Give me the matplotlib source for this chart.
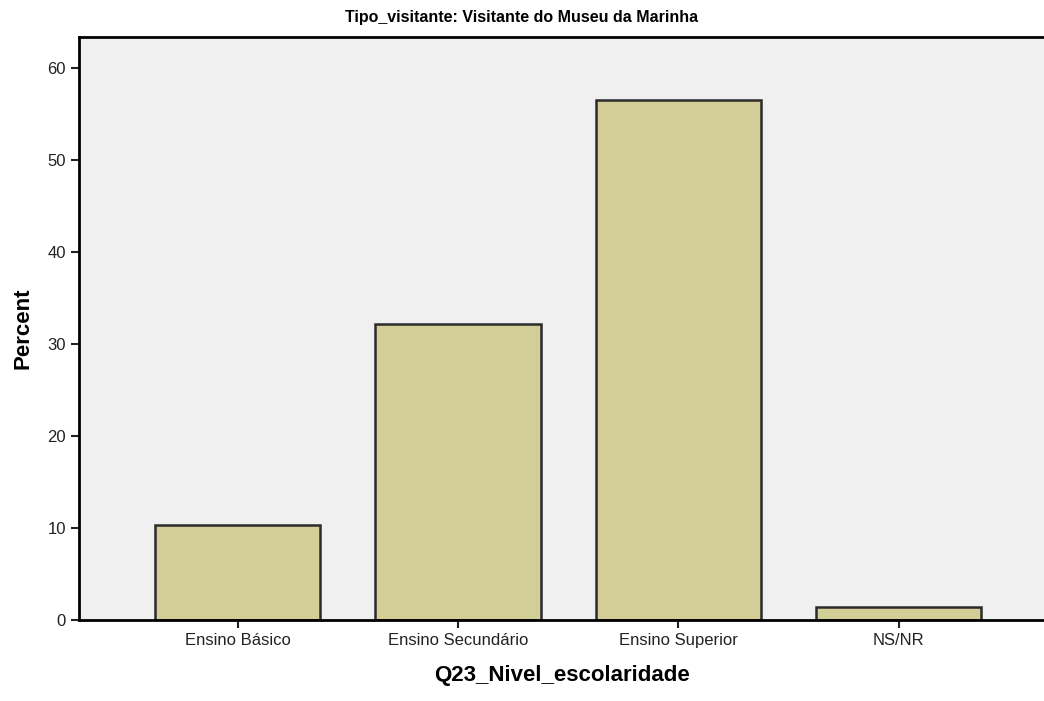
import matplotlib
matplotlib.use('Agg')
import matplotlib.pyplot as plt

plt.rcParams['font.family'] = ['Liberation Sans', 'DejaVu Sans']

categories = ['Ensino Básico', 'Ensino Secundário', 'Ensino Superior', 'NS/NR']
percent = [10.3, 32.2, 56.5, 1.4]

fig = plt.figure(figsize=(10.44, 7.01), dpi=100)
ax = fig.add_axes([0.0757, 0.1155, 0.9243, 0.8315])
ax.set_facecolor('#f0f0f0')

x = list(range(len(categories)))
ax.bar(x, percent, width=0.75, color='#d3ce98', edgecolor='#2a2a2a', linewidth=1.8, zorder=2)

ax.set_xlim(-0.72, 3.66)
ax.set_ylim(0, 63.3)
ax.set_yticks([0, 10, 20, 30, 40, 50, 60])
ax.set_xticks(x)
ax.set_xticklabels(categories, fontsize=12)
ax.tick_params(axis='y', labelsize=12, length=6, width=1.5, colors='#222222')
ax.tick_params(axis='x', length=6, width=1.5, colors='#222222')

for s in ['left', 'bottom', 'top']:
    ax.spines[s].set_linewidth(2)
    ax.spines[s].set_color('black')
ax.spines['right'].set_visible(False)

ax.set_ylabel('Percent', fontsize=16, fontweight='bold', labelpad=10)
ax.set_xlabel('Q23_Nivel_escolaridade', fontsize=16, fontweight='bold', labelpad=12)
fig.text(0.5, 0.975, 'Tipo_visitante: Visitante do Museu da Marinha',
         ha='center', va='center', fontsize=11.5, fontweight='bold')

fig.savefig('out.png', dpi=100, facecolor='white')
